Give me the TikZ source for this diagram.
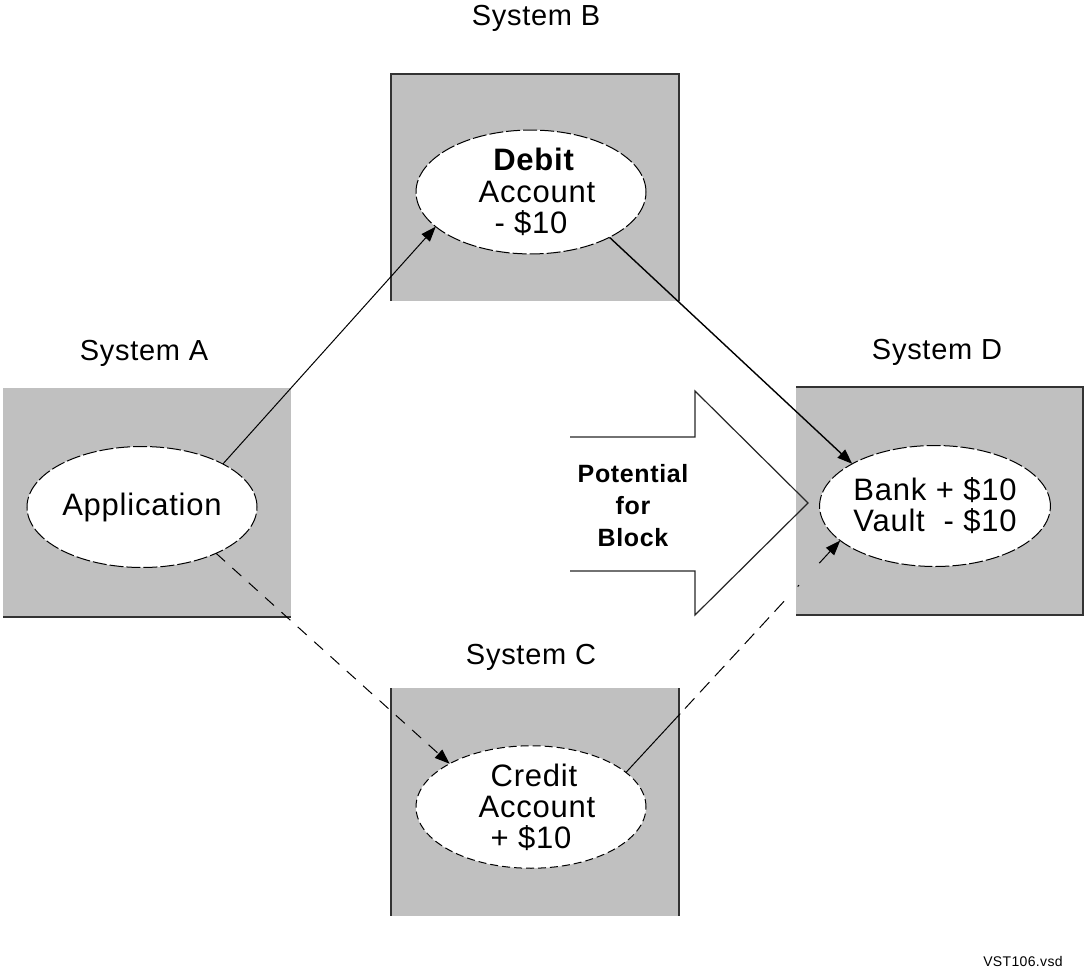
\documentclass[tikz,border=0pt]{standalone}
\usepackage{fontspec}
\setmainfont{Liberation Sans}[LetterSpace=2.5]
\usetikzlibrary{arrows.meta,shapes.geometric}
\definecolor{boxgray}{RGB}{192,192,192}
\begin{document}
\begin{tikzpicture}[x=1pt,y=-1pt,
  sysbox/.style={fill=boxgray,draw=none},
  boxedge/.style={draw=black!80,line width=1.4pt},
  proc/.style={ellipse,fill=white,draw=black,line width=1pt,dash pattern=on 14pt off 3pt,
    minimum width=230pt,minimum height=121pt,inner sep=0pt,outer sep=0pt,align=center,
    font=\fontsize{31}{31}\selectfont},
  syslabel/.style={font=\fontsize{29}{29}\selectfont},
  conn/.style={line width=1pt,-{Triangle[length=15pt,width=11pt]}},
  bigarrow/.style={draw=black!85,line width=1.2pt,line join=miter},
  ]
\useasboundingbox (0,0) rectangle (1089,979);

% system boxes
\fill[sysbox] (3,388) rectangle (291,617);
\draw[boxedge] (3,617) -- (291,617);
\fill[sysbox] (391,74) rectangle (679,301);
\draw[boxedge] (391,301) -- (391,74) -- (679,74) -- (679,301);
\fill[sysbox] (391,688) rectangle (679,916);
\draw[boxedge] (391,688) -- (391,916) (679,688) -- (679,916);
\fill[sysbox] (796,387) rectangle (1083,615);
\draw[boxedge] (796,387) -- (1083,387) -- (1083,615) -- (796,615);

% labels
\node[syslabel] (la) at (144,353) {System A};
\node[syslabel] (lb) at (536,18) {System B};
\node[syslabel] (lc) at (531,657) {System C};
\node[syslabel] (ld) at (937,352) {System D};

% ellipses
\node[proc] (app) at (142,507) {Application};
\node[proc] (debit) at (531,192) {\hspace*{6pt}\textbf{Debit}\\[1pt]\hspace*{12pt}Account\\- \$10};
\node[proc,dash pattern=on 8pt off 4pt] (credit) at (531,807) {\hspace*{6pt}Credit\\\hspace*{12pt}Account\\+ \$10};
\node[proc] (bank) at (935,506) {Bank + \$10\\Vault \ - \$10};

% big open arrow
\draw[bigarrow] (570,437) -- (695,437) -- (695,391) -- (808,503) -- (695,615) -- (695,571) -- (570,571);
\node[font=\bfseries\fontsize{25}{32}\selectfont,align=center] (pot) at (633,506) {Potential\\for\\Block};

% connectors
\draw[conn] (app.28) -- (debit.200);
\draw[conn,line width=1.4pt] (debit.-30) -- (bank.153);
\draw[conn,dash pattern=on 12pt off 10pt] (app.-32) -- (credit.152);
\draw[conn,dash pattern={on 80pt off 7pt on 14pt off 8pt on 14pt off 8pt on 14pt off 8pt on 14pt off 8pt on 14pt off 8pt on 14pt off 8pt on 14pt off 20pt on 2pt off 30pt}] (credit.20) -- (bank.200);

% file name
\node[font=\fontsize{14}{14}\selectfont] (fname) at (1023,961) {VST106.vsd};
\end{tikzpicture}
\end{document}
